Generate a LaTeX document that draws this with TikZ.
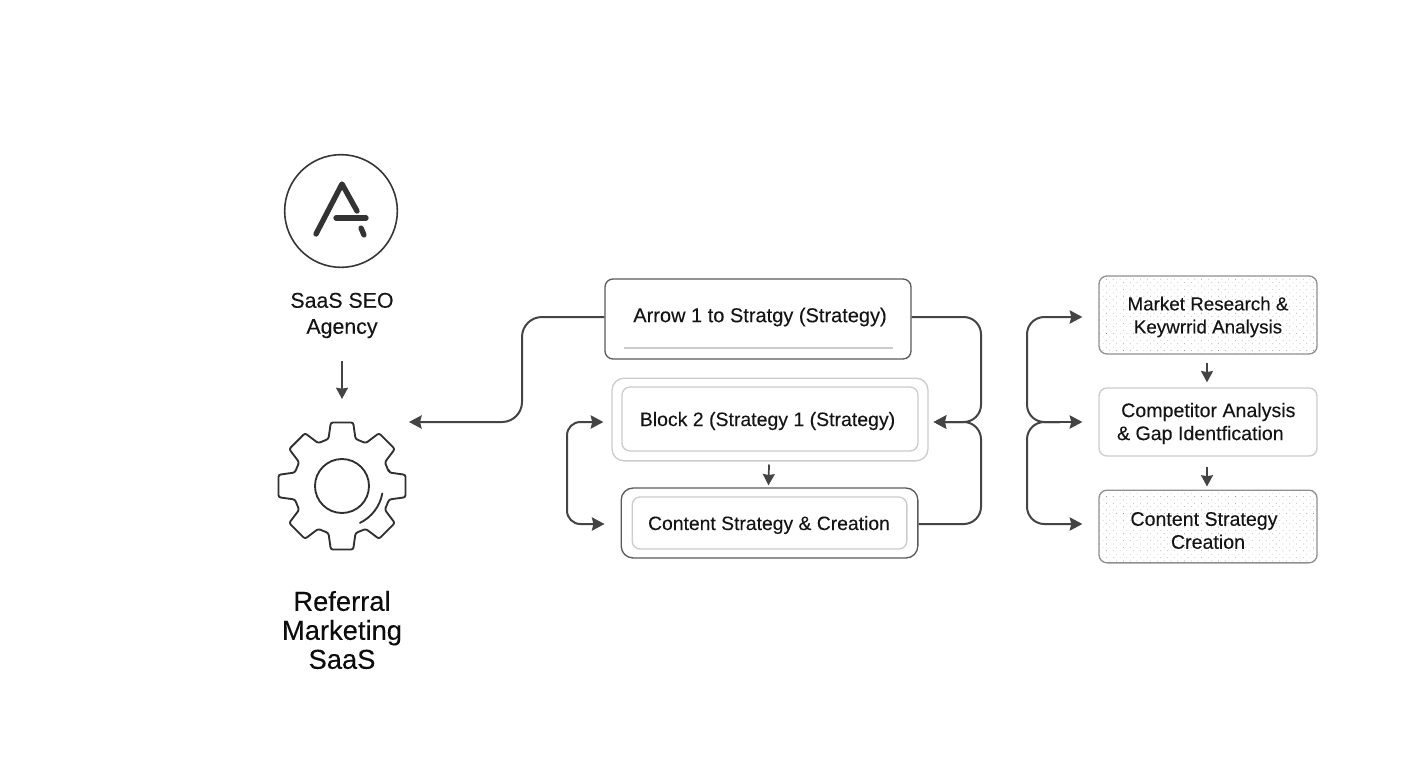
\documentclass[tikz,border=0pt]{standalone}
\usepackage{fontspec}
\setmainfont{Liberation Sans}[FakeBold=0.12]
\usetikzlibrary{arrows.meta,calc,patterns.meta}
\definecolor{ink}{HTML}{444444}
\definecolor{edge}{HTML}{5A5A5A}
\definecolor{pale}{HTML}{CCCCCC}
\definecolor{mid}{HTML}{909090}
\tikzset{
  conn/.style={draw=ink,line width=1.5pt,rounded corners=13pt},
  tip/.style={-{Stealth[length=9.5pt,width=10pt,inset=1.2pt]}},
  tips/.style={{Stealth[length=9.5pt,width=10pt,inset=1.2pt]}-{Stealth[length=9.5pt,width=10pt,inset=1.2pt]}},
  smalltip/.style={draw=ink,line width=1.3pt,-{Stealth[length=8.5pt,width=9pt,inset=0.8pt]}},
  lab/.style={font=\fontsize{14.7}{17.25}\selectfont,text=black!92,align=center,inner sep=0pt},
  toplab/.style={font=\fontsize{16}{19.5}\selectfont,text=black!92,align=center,inner sep=0pt},
  biglab/.style={font=\fontsize{20.5}{21.75}\selectfont,text=black!95,align=center,inner sep=0pt},
  card/.style={rectangle,rounded corners=6pt,inner sep=0pt,line width=1pt,fill=white},
  dotcard/.style={rectangle,rounded corners=6pt,inner sep=0pt,line width=1pt,draw=mid,
    pattern={Dots[distance=3.6pt,radius=0.33pt,angle=45]},pattern color=black!42},
  logoline/.style={draw=black!80,line width=4pt,line cap=round,line join=round},
  gearline/.style={draw=ink!70!black,line width=1.4pt},
}
\begin{document}
\begin{tikzpicture}[x=0.75pt,y=-0.75pt]
\useasboundingbox (0,0) rectangle (1408,768);
\fill[white] (0,0) rectangle (1408,768);

% row levels
\coordinate (row1) at (0,317);
\coordinate (row2) at (0,422);
\coordinate (row3) at (0,524);

% logo
\node[draw=ink!80!black,line width=1.2pt,circle,minimum size=84.5pt,inner sep=0pt] (logo) at (341,211) {};
\draw[logoline] (316,234) -- (342,184) -- (357,211);
\draw[logoline] (336,218) -- (366,218);
\draw[logoline] (361,228) -- (364,235);
\node[toplab] (seo) at (342,315.5) {SaaS SEO\\Agency};

% gear
\coordinate (gear) at (342,486);
\begin{scope}[shift={(gear)}]
\draw[gearline,rounded corners=1.6pt,line join=round]
  (-16:49) \foreach \a in {0,45,...,315} { -- (\a-16:49) -- (\a-10:64.5) -- (\a+10:64.5) -- (\a+16:49) } -- cycle;
\draw[gearline] (0,0) circle[radius=27];
\draw[gearline,line cap=round] (40.3,7.5) arc[start angle=10.5,end angle=64,radius=41];
\end{scope}
\node[biglab] (ref) at (342,630) {Referral\\Marketing\\SaaS};

\draw[smalltip] (342,361) -- (342,399);

% middle column
\node[card,draw=edge,minimum width=229.5pt,minimum height=60pt] (A) at (758,319) {};
\draw[draw=pale,line width=0.9pt] (624,348) -- (893,348);
\node[lab,font=\fontsize{15}{18}\selectfont] (Atext) at (760,317) {Arrow 1 to Stratgy (Strategy)};

\node[card,draw=pale,rounded corners=9pt,minimum width=237pt,minimum height=62pt] (Bout) at (770,419.5) {};
\node[card,draw=pale,minimum width=222pt,minimum height=48pt] (B) at (770,419) {};
\node[lab,font=\fontsize{14.6}{18}\selectfont] (Btext) at (767.5,421) {Block 2 (Strategy 1 (Strategy)};

\node[card,draw=edge,rounded corners=9pt,minimum width=222.5pt,minimum height=52.5pt] (Cout) at (769.5,523) {};
\node[card,draw=pale,minimum width=206pt,minimum height=39pt] (C) at (769.5,523) {};
\node[lab,font=\fontsize{14.5}{18}\selectfont] (Ctext) at (769,525) {Content Strategy \& Creation};

\draw[smalltip] ($(Bout.south)+(-1,3)$) -- ($(Cout.north)+(-1,-2)$);

% right column
\node[dotcard,minimum width=163.5pt,minimum height=58.5pt] (R1) at (1208,315) {};
\node[lab,font=\fontsize{14.1}{17.25}\selectfont] (R1text) at (1208,317) {Market Research \&\\Keywrrid Analysis};
\node[card,draw=pale,minimum width=163.5pt,minimum height=51pt] (R2) at (1208,422) {};
\node[lab] (R2text) at (1203,423.5) {\hspace*{8pt}Competitor Analysis\\\& Gap Identfication\hspace*{4pt}};
\node[dotcard,minimum width=163.5pt,minimum height=54.5pt] (R3) at (1208,526.5) {};
\node[lab] (R3text) at (1204,530.5) {Content Strategy\\\hspace*{6pt}Creation};

\draw[smalltip] ($(R1.south)+(-1,8)$) -- ($(R2.north)+(-1,-5)$);
\draw[smalltip] ($(R2.south)+(-1,10)$) -- ($(R3.north)+(-1,-3)$);

% left connector
\coordinate (gearport) at (409,422);
\draw[conn,tip,rounded corners=15pt] (A.west |- row1) -- (522,317) -- (522,422) -- (gearport);

% loop between block 2 and content
\draw[conn,tips,rounded corners=10pt] ($(Bout.west |- row2)+(-8,0)$) -- (567,422) -- (567,524) -- ($(Cout.west |- row3)+(-16,0)$);

% right-hand bracket into block 2
\coordinate (portB) at ($(Bout.east |- row2)+(5,0)$);
\draw[conn,tip] (A.east |- row1) -- (981,317) -- (981,422) -- (portB);
\draw[conn,tip] (Cout.east |- row3) -- (981,524) -- (981,422) -- (portB);

% bracket into right column
\coordinate (hubR) at (1060,422);
\draw[conn,tip] (hubR) -- (1027,422) -- (1027,317) -- ($(R1.west |- row1)+(-16,0)$);
\draw[conn,tip] (hubR) -- (1027,422) -- (1027,524) -- ($(R3.west |- row3)+(-16,0)$);
\draw[conn,tip] (hubR) -- ($(R2.west |- row2)+(-16,0)$);
\end{tikzpicture}
\end{document}
